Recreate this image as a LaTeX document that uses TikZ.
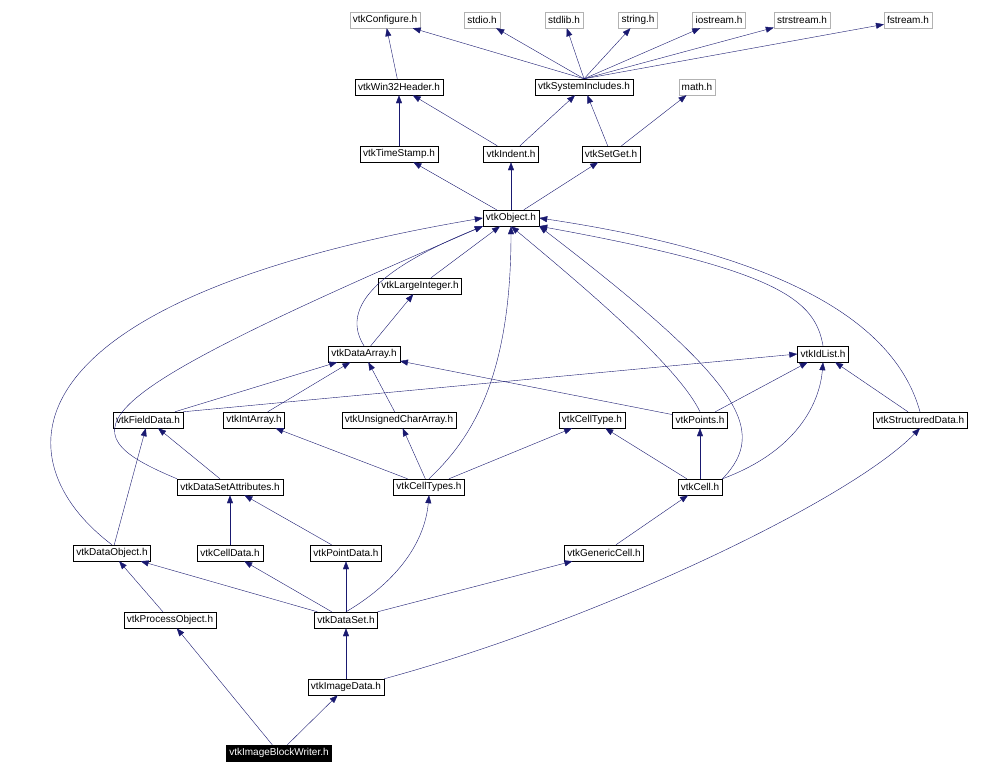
\documentclass[tikz,border=0pt]{standalone}
\usepackage{fontspec}
\setmainfont{Liberation Sans}
\usetikzlibrary{arrows.meta}
\definecolor{edgeblue}{RGB}{25,25,112}
\begin{document}
\begin{tikzpicture} [
    x=1pt, y=-1pt,
    hdr/.style={rectangle, draw=black, minimum height=16pt, inner xsep=3pt, inner ysep=1pt, font=\fontsize{10}{12}\selectfont},
    sys/.style={hdr, draw=black!30},
    top/.style={hdr, fill=black, text=white},
    inc/.style={->, draw=edgeblue},
    >={Triangle[length=8pt,width=6pt,fill=edgeblue]}
    ]
    \useasboundingbox (0,0) rectangle (984,776);
    %Nodes
    \node[sys] (conf)   at (385,20)  {vtkConfigure.h};
    \node[sys] (stdio)  at (482,20)  {stdio.h};
    \node[sys] (stdlib) at (564,20)  {stdlib.h};
    \node[sys] (string) at (638,20)  {string.h};
    \node[sys] (ios)    at (719,20)  {iostream.h};
    \node[sys] (sstr)   at (802,20)  {strstream.h};
    \node[sys] (fstr)   at (908,20)  {fstream.h};
    \node[hdr] (win)    at (399,87)  {vtkWin32Header.h};
    \node[hdr] (sysinc) at (584,87)  {vtkSystemIncludes.h};
    \node[sys] (math)   at (697,87)  {math.h};
    \node[hdr] (tstamp) at (399,154) {vtkTimeStamp.h};
    \node[hdr] (indent) at (511,154) {vtkIndent.h};
    \node[hdr] (setget) at (611,154) {vtkSetGet.h};
    \node[hdr] (obj)    at (511,218) {vtkObject.h};
    \node[hdr] (lint)   at (420,286) {vtkLargeInteger.h};
    \node[hdr] (darr)   at (364,354) {vtkDataArray.h};
    \node[hdr] (idl)    at (823,354) {vtkIdList.h};
    \node[hdr] (fdata)  at (148,420) {vtkFieldData.h};
    \node[hdr] (iarr)   at (254,420) {vtkIntArray.h};
    \node[hdr] (ucarr)  at (399,420) {vtkUnsignedCharArray.h};
    \node[hdr] (ctype)  at (592,420) {vtkCellType.h};
    \node[hdr] (pts)    at (700,420) {vtkPoints.h};
    \node[hdr] (sdata)  at (920,420) {vtkStructuredData.h};
    \node[hdr] (dsatt)  at (230,487) {vtkDataSetAttributes.h};
    \node[hdr] (ctypes) at (429,487) {vtkCellTypes.h};
    \node[hdr] (cell)   at (700,487) {vtkCell.h};
    \node[hdr] (dobj)   at (112,553) {vtkDataObject.h};
    \node[hdr] (cdata)  at (230,553) {vtkCellData.h};
    \node[hdr] (pdata)  at (346,553) {vtkPointData.h};
    \node[hdr] (gcell)  at (604,553) {vtkGenericCell.h};
    \node[hdr] (pobj)   at (170,620) {vtkProcessObject.h};
    \node[hdr] (dset)   at (346,620) {vtkDataSet.h};
    \node[hdr] (idata)  at (346,687) {vtkImageData.h};
    \node[top] (writer) at (279,753) {vtkImageBlockWriter.h};
    %Lines
    \draw[inc] (win) -- (conf);
    \foreach \t in {conf,stdio,stdlib,string,ios,sstr,fstr}
        \draw[inc] (sysinc.north) -- (\t);
    \draw[inc] (tstamp) -- (win);
    \draw[inc] (indent) -- (win);
    \draw[inc] (indent) -- (sysinc);
    \draw[inc] (setget) -- (sysinc);
    \draw[inc] (setget) -- (math);
    \draw[inc] (obj) -- (tstamp);
    \draw[inc] (obj) -- (indent);
    \draw[inc] (obj) -- (setget);
    \draw[inc] (lint) -- (obj);
    \draw[inc] (darr.north) .. controls (335,300) and (400,260) .. (obj.south west);
    \draw[inc] (darr) -- (lint);
    \draw[inc] (iarr) -- (darr);
    \draw[inc] (ucarr) -- (darr);
    \draw[inc] (fdata) -- (darr);
    \draw[inc] (fdata.north east) -- (idl.west);
    \draw[inc] (pts) -- (darr);
    \draw[inc] (pts) -- (idl);
    \draw[inc] (pts.north) .. controls (680,370) and (600,300) .. (obj.south);
    \draw[inc] (idl.north) .. controls (815,300) and (780,270) .. (obj.south east);
    \draw[inc] (sdata) -- (idl);
    \draw[inc] (sdata.north) .. controls (900,340) and (820,260) .. (obj.east);
    \draw[inc] (ctypes) -- (ctype);
    \draw[inc] (ctypes) -- (iarr);
    \draw[inc] (ctypes) -- (ucarr);
    \draw[inc] (ctypes.north) .. controls (470,440) and (511,380) .. (obj.south);
    \draw[inc] (dsatt) -- (fdata);
    \draw[inc] (dsatt.north west) .. controls (60,430) and (80,400) .. (obj.south west);
    \draw[inc] (cell) -- (ctype);
    \draw[inc] (cell) -- (pts);
    \draw[inc] (cell.north east) .. controls (800,450) and (820,400) .. (idl.south);
    \draw[inc] (cell.north east) .. controls (770,430) and (740,380) .. (obj.south east);
    \draw[inc] (dobj) -- (fdata);
    \draw[inc] (dobj.north) .. controls (0,460) and (0,300) .. (obj.west);
    \draw[inc] (cdata) -- (dsatt);
    \draw[inc] (pdata) -- (dsatt);
    \draw[inc] (gcell) -- (cell);
    \draw[inc] (pobj) -- (dobj);
    \draw[inc] (dset) -- (dobj);
    \draw[inc] (dset) -- (cdata);
    \draw[inc] (dset) -- (pdata);
    \draw[inc] (dset) -- (gcell);
    \draw[inc] (dset.north) .. controls (400,580) and (425,540) .. (ctypes.south);
    \draw[inc] (idata) -- (dset);
    \draw[inc] (idata.north east) .. controls (600,620) and (850,500) .. (sdata.south);
    \draw[inc] (writer) -- (idata);
    \draw[inc] (writer) -- (pobj);
\end{tikzpicture}
\end{document}
